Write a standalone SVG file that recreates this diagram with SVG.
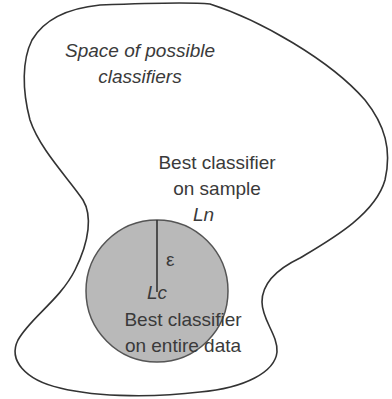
<svg xmlns="http://www.w3.org/2000/svg" width="392" height="399" viewBox="0 0 392 399">
<style>
  text { font-family: "Liberation Sans", Arial, sans-serif; font-size: 19px; fill: #3a3a3a; }
  .it { font-style: italic; }
  .outline { fill: none; stroke: #333; stroke-width: 1.6; }
</style>
<rect width="392" height="399" fill="#fff"/>
<g id="space">
  <path class="outline" d="M 100,5 C 150,3 190,2 210,4 C 260,20 330,60 365,100 C 385,125 392,150 385,180 C 375,215 330,240 300,258 C 275,270 262,285 262,302 C 262,320 278,335 277,352 C 275,372 245,388 200,392 C 160,397 100,398 60,388 C 25,380 8,360 18,340 C 30,318 60,300 75,270 C 90,240 92,215 83,200 C 70,180 40,150 30,120 C 22,90 22,60 32,40 C 45,18 70,8 100,5 Z"/>
  <text class="it" x="140" y="57" text-anchor="middle">Space of possible</text>
  <text class="it" x="140" y="83" text-anchor="middle">classifiers</text>
</g>
<g id="sample">
  <text x="217" y="169" text-anchor="middle">Best classifier</text>
  <text x="217" y="195" text-anchor="middle">on sample</text>
  <text class="it" x="193" y="221">Ln</text>
</g>
<g id="entire">
  <circle cx="157" cy="291" r="71" fill="#b9b9b9" stroke="#555" stroke-width="1.5"/>
</g>
<g id="connectors">
  <line x1="157" y1="220" x2="157" y2="292" stroke="#333" stroke-width="1.6"/>
</g>
<g id="labels">
  <text x="166" y="266" font-size="16">ε</text>
  <text class="it" x="147" y="299">Lc</text>
  <text x="183" y="326" text-anchor="middle">Best classifier</text>
  <text x="183" y="352" text-anchor="middle">on entire data</text>
</g>
</svg>
